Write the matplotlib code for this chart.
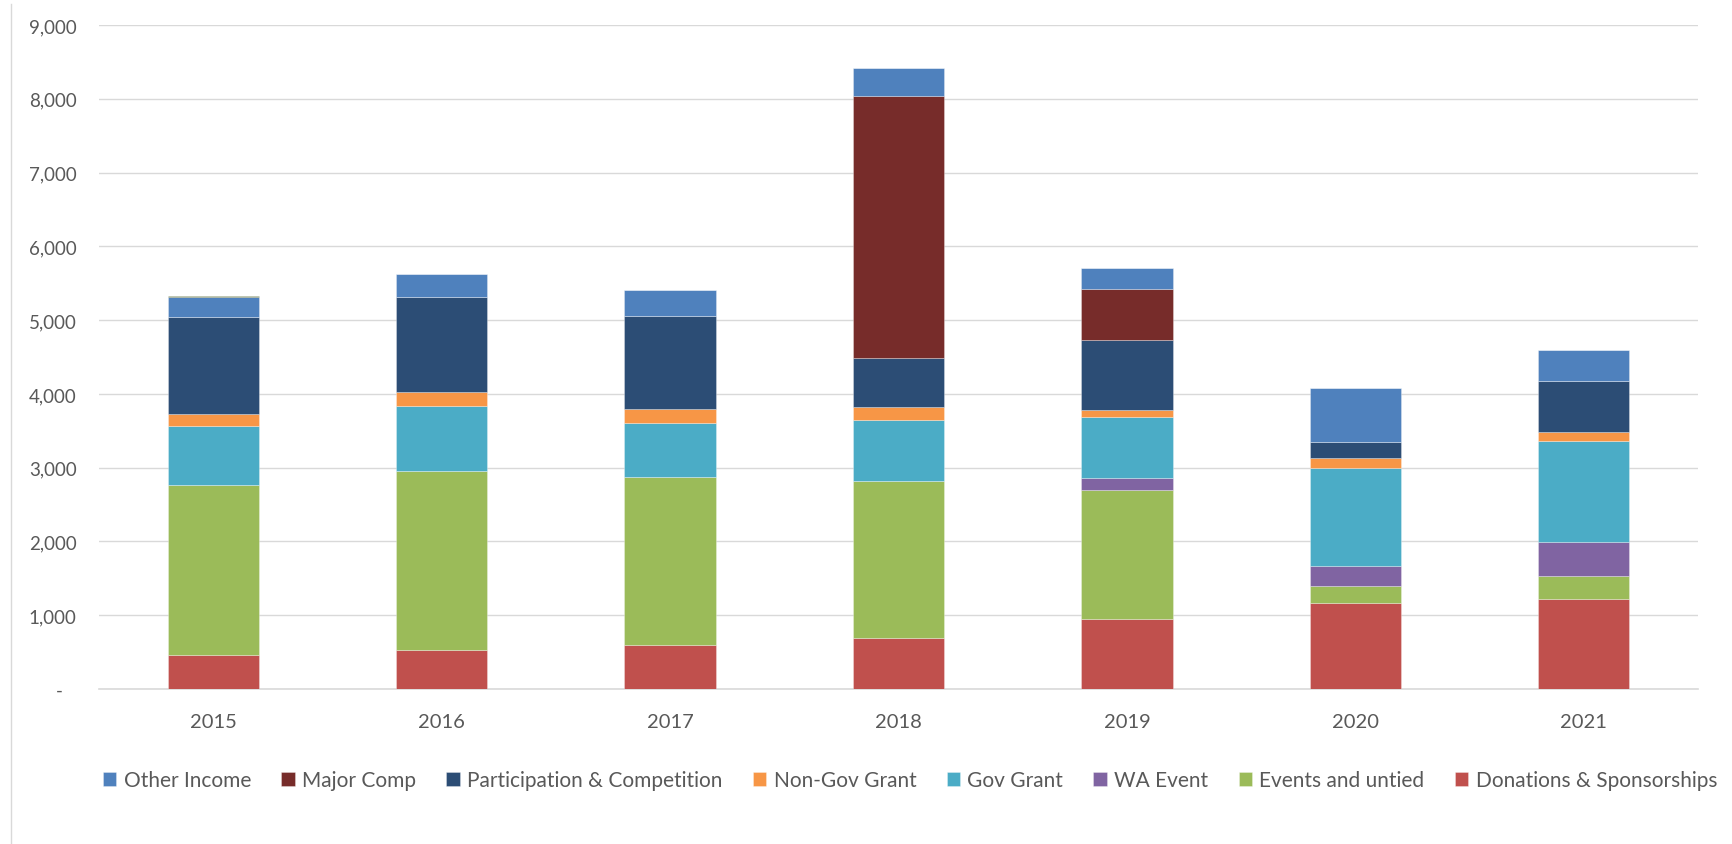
import matplotlib
matplotlib.use("Agg")
import matplotlib.pyplot as plt
from matplotlib.lines import Line2D
from matplotlib.ticker import FuncFormatter
import numpy as np

plt.rcParams['font.family'] = ['Lato', 'DejaVu Sans']

years = ["2015", "2016", "2017", "2018", "2019", "2020", "2021"]

# Income by source (stacked bottom to top)
donations = [466, 529, 602, 691, 949, 1162, 1216]
events_untied = [2299, 2426, 2271, 2135, 1752, 234, 316]
wa_event = [0, 0, 0, 0, 154, 271, 459]
gov_grant = [796, 882, 729, 814, 831, 1333, 1369]
non_gov_grant = [168, 186, 194, 180, 95, 131, 117]
participation = [1312, 1289, 1258, 663, 948, 216, 694]
major_comp = [0, 0, 0, 3556, 687, 0, 0]
other_income = [271, 308, 358, 377, 284, 734, 419]
sundry = [12, 0, 0, 0, 0, 0, 0]

series = [
    ("Donations & Sponsorships", donations, "#C0504D"),
    ("Events and untied", events_untied, "#9BBB59"),
    ("WA Event", wa_event, "#8064A2"),
    ("Gov Grant", gov_grant, "#4BACC6"),
    ("Non-Gov Grant", non_gov_grant, "#F79646"),
    ("Participation & Competition", participation, "#2C4D75"),
    ("Major Comp", major_comp, "#772C2A"),
    ("Other Income", other_income, "#4F81BD"),
    ("_sundry", sundry, "#4F6228"),
]

W, H = 1732, 845
fig = plt.figure(figsize=(W / 100, H / 100), dpi=100)
ax = fig.add_axes([99 / W, 1 - 690 / H, (1698 - 99) / W, (690 - 26) / H])

x = np.arange(len(years))
bottom = np.zeros(len(years))
for name, vals, col in series:
    v = np.array(vals, dtype=float)
    ax.bar(x, v, width=0.40, bottom=bottom, color=col, label=name,
           edgecolor=(1, 1, 1, 0.35), linewidth=0.6, zorder=3)
    bottom += v

ax.set_xlim(-0.5, len(years) - 0.5)
ax.set_ylim(0, 9000)
ax.set_yticks(np.arange(0, 9001, 1000))
ax.yaxis.set_major_formatter(FuncFormatter(lambda v, p: "-   " if v == 0 else f"{int(v):,}"))
ax.set_xticks(x)
ax.set_xticklabels(years)

ax.grid(axis="y", color="#D9D9D9", linewidth=1.0, zorder=0)
for s in ["top", "right", "left"]:
    ax.spines[s].set_visible(False)
ax.spines["bottom"].set_color("#D9D9D9")
ax.spines["bottom"].set_linewidth(1.2)
ax.tick_params(axis="y", length=0, labelsize=13.5, labelcolor="#595959", pad=16)
ax.tick_params(axis="x", length=0, labelsize=14.5, labelcolor="#595959", pad=17)

handles, labels = ax.get_legend_handles_labels()
pairs = [(h, l) for h, l in zip(handles, labels) if not l.startswith("_")]
pairs = pairs[::-1]
leg = fig.legend([p[0] for p in pairs], [p[1] for p in pairs], ncol=8,
                 loc="center", bbox_to_anchor=(910 / W, 1 - 781 / H),
                 frameon=False, fontsize=15, handlelength=0.65, handleheight=0.65,
                 handletextpad=0.35, columnspacing=1.45, labelcolor="#595959")

# outer chart frame
fig.add_artist(Line2D([11 / W, 11 / W], [0, 1 - 5 / H], transform=fig.transFigure,
                      color="#D9D9D9", linewidth=1.0))

fig.savefig("out.png", dpi=100, facecolor="white")
